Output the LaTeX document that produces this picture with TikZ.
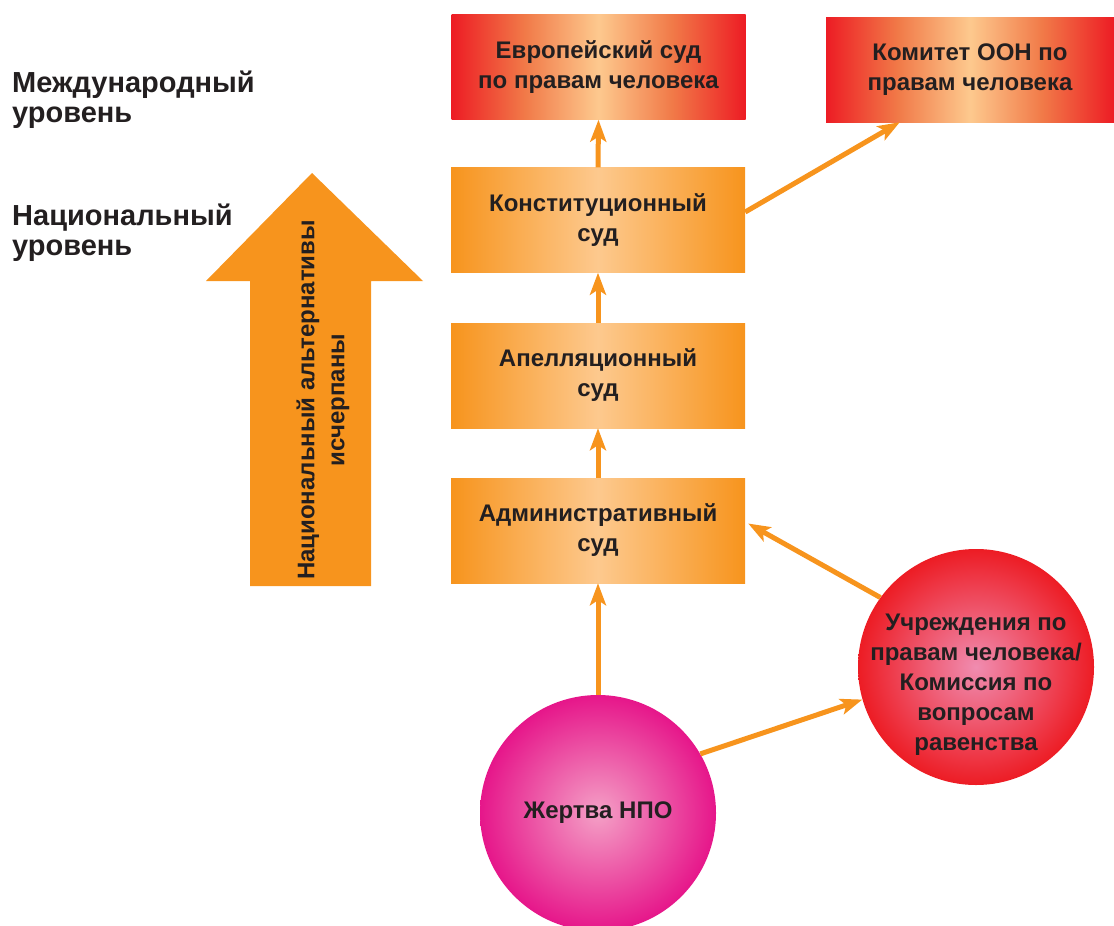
\documentclass[tikz,border=0pt]{standalone}
\usepackage{fontspec}
\setmainfont{Liberation Sans}
\usetikzlibrary{arrows.meta,shadings}

\definecolor{org}{RGB}{247,148,29}
\definecolor{peach}{RGB}{253,201,142}
\definecolor{orgmid}{RGB}{241,122,72}
\definecolor{rd}{RGB}{237,28,36}
\definecolor{txt}{RGB}{35,31,32}
\definecolor{mag}{RGB}{230,22,138}
\definecolor{pinkc}{RGB}{244,160,198}
\definecolor{pinkr}{RGB}{240,140,176}

\pgfdeclarehorizontalshading{orgshade}{100bp}{color(0bp)=(org);color(25bp)=(org);color(50bp)=(peach);color(75bp)=(org);color(100bp)=(org)}
\pgfdeclarehorizontalshading{redshade}{100bp}{color(0bp)=(rd);color(25bp)=(rd);color(37.5bp)=(orgmid);color(50bp)=(peach);color(62.5bp)=(orgmid);color(75bp)=(rd);color(100bp)=(rd)}

\tikzset{
  box/.style={rectangle, minimum width=294pt, minimum height=105pt, inner sep=0pt,
    align=center, font=\fontsize{24}{30}\selectfont\bfseries, text=txt},
  obox/.style={box, shading=orgshade},
  rbox/.style={box, shading=redshade},
  ball/.style={circle, minimum size=236pt, inner sep=0pt, align=center,
    font=\fontsize{24}{30}\selectfont\bfseries, text=txt},
  balltext/.style={inner sep=0pt, align=center,
    font=\fontsize{24}{30}\selectfont\bfseries, text=txt},
  lvl/.style={anchor=north west, align=left, inner sep=0pt,
    font=\fontsize{29}{30}\selectfont\bfseries, text=txt},
  con/.style={draw=org, line width=5pt, -{Stealth[length=22pt,width=16pt,inset=5pt]}}
}

\begin{document}
\begin{tikzpicture}[x=1pt,y=-1pt]
\useasboundingbox (0,0) rectangle (1114,926);

% level labels
\node[lvl] (intl) at (12,71) {Международный\\уровень};
\node[lvl] (natl) at (12,204) {Национальный\\уровень};

% big arrow
\fill[org] (250,586) -- (250,281) -- (206,281) -- (312,173) -- (423,281)
  -- (371,281) -- (371,586) -- cycle;
\node[rotate=90, align=center, inner sep=0pt, text=txt,
  font=\fontsize{24}{30}\selectfont\bfseries] (bat) at (323,400)
  {Национальный альтернативы\\исчерпаны};

% boxes
\node[rbox] (eur) at (598.5,67) {Европейский суд\\по правам человека};
\node[rbox, minimum width=288pt] (kom) at (970,69.5) {Комитет ООН по\\правам человека};
\node[obox] (const) at (598,220) {Конституционный\\суд};
\node[obox] (appeal) at (598,375.5) {Апелляционный\\суд};
\node[obox] (admin) at (598,530.5) {Административный\\суд};

% circles
\node[ball, inner color=pinkc, outer color=mag] (zh) at (598,813) {Жертва НПО};
\node[ball, inner color=pinkr, outer color=rd] (uchr) at (976,667) {};
\node[balltext] (uchrtext) at (976,685)
  {Учреждения по\\правам человека/\\Комиссия по\\вопросам\\равенства};

% connectors
\draw[con] (zh.north) -- (admin.south);
\draw[con] (admin.north) -- (appeal.south);
\draw[con] (appeal.north) -- (const.south);
\draw[con] (const.north) -- (eur.south);
\draw[con] ([yshift=8pt]const.east) -- ([xshift=74pt]kom.south west);
\draw[con] (uchr.144) -- ([xshift=3pt,yshift=7pt]admin.east);
\draw[con] (zh.30) -- (uchr.196);
\end{tikzpicture}
\end{document}
